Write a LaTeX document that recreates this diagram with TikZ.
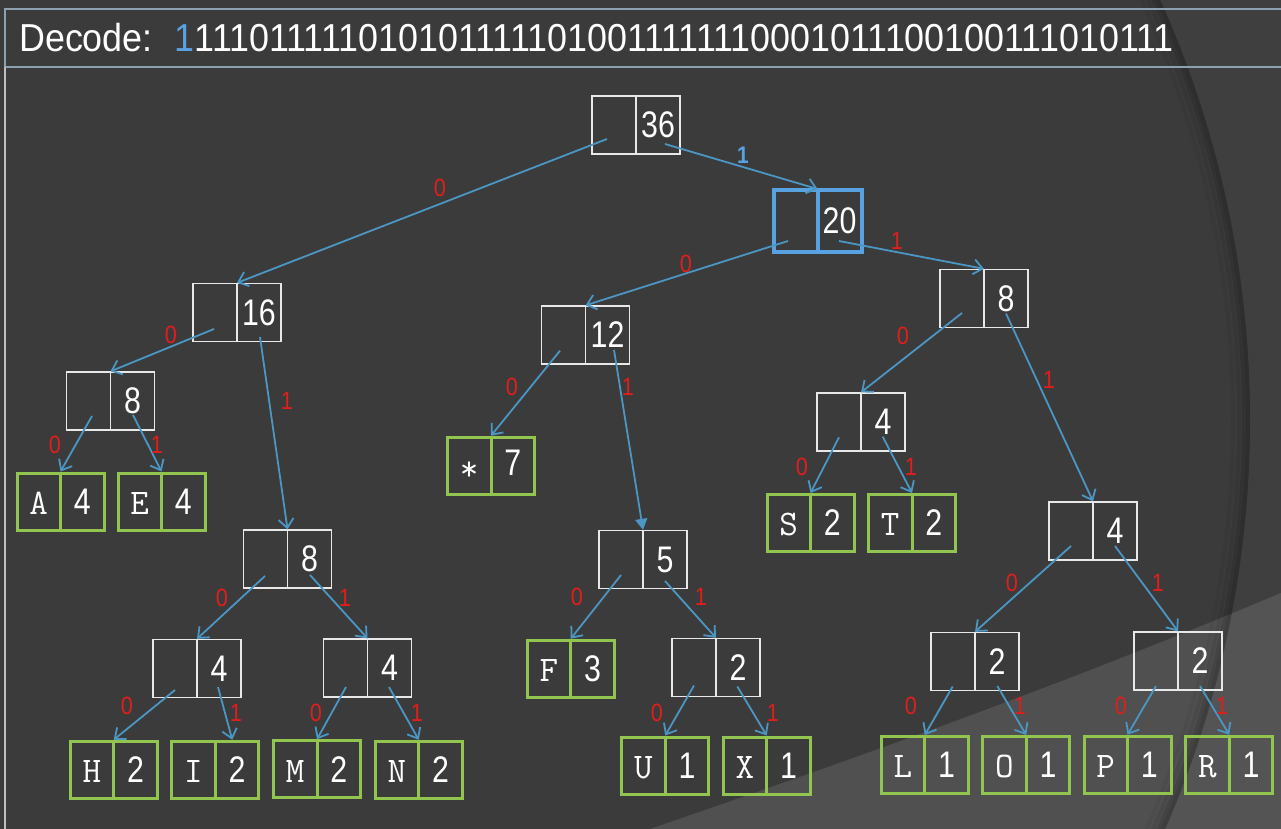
\documentclass[tikz,border=0pt]{standalone}
\usepackage{fontspec}
\setmainfont{Liberation Sans}
\newfontfamily\nfont[FakeStretch=0.87]{Liberation Sans}
\newfontfamily\hfont[FakeStretch=0.92]{Liberation Sans}
\newfontfamily\dfont[FakeStretch=0.82]{Liberation Sans}
\usetikzlibrary{arrows.meta}
\definecolor{bgc}{RGB}{59,59,59}
\definecolor{swoosh}{RGB}{80,80,80}
\definecolor{hdrline}{RGB}{140,162,176}
\definecolor{sideline}{RGB}{190,190,190}
\definecolor{edgec}{RGB}{75,150,195}
\definecolor{nodew}{RGB}{232,232,232}
\definecolor{leafg}{RGB}{146,196,80}
\definecolor{lblred}{RGB}{224,30,28}
\definecolor{hlblue}{RGB}{88,162,226}
\begin{document}
\begin{tikzpicture}[x=1pt,y=-1pt,
  tn/.style={draw=nodew, line width=1.3pt, minimum width=88pt, minimum height=58pt, inner sep=0pt,
    path picture={\draw[nodew, line width=1.3pt] (path picture bounding box.north) -- (path picture bounding box.south);}},
  hn/.style={draw=hlblue, line width=4pt, minimum width=87pt, minimum height=62pt, inner sep=0pt,
    path picture={\draw[hlblue, line width=4pt] (path picture bounding box.north) -- (path picture bounding box.south);}},
  lf/.style={draw=leafg, line width=3pt, minimum width=87pt, minimum height=57pt, inner sep=0pt,
    path picture={\draw[leafg, line width=3pt] (path picture bounding box.north) -- (path picture bounding box.south);}},
  edge/.style={draw=edgec, line width=1.8pt, -{Straight Barb[length=9pt,width=15pt,line width=1.8pt]}},
  fedge/.style={draw=edgec, line width=1.8pt, -{Triangle[length=11pt,width=12pt]}},
  lbl/.style={text=lblred, font=\nfont\fontsize{25}{27}\selectfont, inner sep=0pt},
  blbl/.style={text=hlblue, font=\nfont\bfseries\fontsize{24}{26}\selectfont, inner sep=0pt}
]
\newcommand\inner[1]{\makebox[44pt]{}\makebox[44pt]{\color{white}\dfont\fontsize{37}{40}\selectfont #1}}
\newcommand\leafc[2]{\makebox[43.5pt]{\color{white}\ttfamily\fontsize{36}{40}\selectfont #1}\makebox[43.5pt]{\color{white}\dfont\fontsize{37}{40}\selectfont #2}}
% background
\useasboundingbox (0,0) rectangle (1281,829);
\fill[bgc] (0,0) rectangle (1281,829);
\fill[swoosh] (650,829) .. controls (850,760) and (1050,690) .. (1281,593) -- (1281,829) -- cycle;
\begin{scope}
\clip (0,0) rectangle (1281,829);
\fill[white, opacity=0.025, even odd rule] (0,0) rectangle (1281,829) (225,420) circle[radius=1025pt];
\foreach \r/\o in {1023/0.22,1019/0.14,1014/0.08,1008/0.04}{
  \draw[black, opacity=\o, line width=4pt] (225,420) circle[radius=\r pt];
}
\end{scope}
% header
\draw[hdrline, line width=1.2pt] (1290,9) -- (5,9) -- (5,67) -- (1290,67);
\draw[sideline, line width=1.2pt] (5,67) -- (5,835);
\node[anchor=base west, inner sep=0pt, text=white, font=\hfont\fontsize{39}{42}\selectfont] (hdr) at (19,52)
  {Decode:\hspace{22pt}{\color{hlblue}1}1110111110101011111010011111110001011100100111010111};
% tree nodes
\node[tn] (r36) at (636,125) {\inner{36}};
\node[hn] (n20) at (817.5,221) {\inner{20}};
\node[tn] (n8r) at (984,298.5) {\inner{8}};
\node[tn] (n16) at (237,312.5) {\inner{16}};
\node[tn] (n8l) at (110.5,401) {\inner{8}};
\node[lf] (lA) at (60.5,501.5) {\leafc{A}{4}};
\node[lf] (lE) at (161.5,501.5) {\leafc{E}{4}};
\node[tn] (n8m) at (287.5,559) {\inner{8}};
\node[tn] (n4a) at (197,668.5) {\inner{4}};
\node[tn] (n4b) at (367.5,668) {\inner{4}};
\node[lf] (lH) at (113.75,769.75) {\leafc{H}{2}};
\node[lf] (lI) at (215.25,769.75) {\leafc{I}{2}};
\node[lf] (lM) at (317,769.25) {\leafc{M}{2}};
\node[lf] (lN) at (418.75,769.75) {\leafc{N}{2}};
\node[tn] (n12) at (585.5,335) {\inner{12}};
\node[lf] (lst) at (491,465.75) {\leafc{\raisebox{-5pt}{*}}{7}};
\node[tn] (n5) at (643,559.5) {\inner{5}};
\node[lf] (lF) at (570.75,668.75) {\leafc{F}{3}};
\node[tn] (n2m) at (716,667.5) {\inner{2}};
\node[lf] (lU) at (665.25,765.5) {\leafc{U}{1}};
\node[lf] (lX) at (766.75,765.5) {\leafc{X}{1}};
\node[tn] (n4s) at (861,422) {\inner{4}};
\node[lf] (lS) at (810.5,523) {\leafc{S}{2}};
\node[lf] (lT) at (912,523) {\leafc{T}{2}};
\node[tn] (n4r) at (1093,531) {\inner{4}};
\node[tn] (n2l) at (975,661.5) {\inner{2}};
\node[tn] (n2r) at (1178,661) {\inner{2}};
\node[lf] (lL) at (924.75,765) {\leafc{L}{1}};
\node[lf] (lO) at (1026.25,765) {\leafc{O}{1}};
\node[lf] (lP) at (1127.5,764.75) {\leafc{P}{1}};
\node[lf] (lR) at (1229.25,764.75) {\leafc{R}{1}};
% edges
\draw[edge] ([shift={(-29,14)}]r36.center) -- (n16.north);
\draw[edge] ([shift={(29,19)}]r36.center) -- ([yshift=-1pt]n20.north);
\draw[edge] ([shift={(-29.5,20)}]n20.center) -- (n12.north);
\draw[edge] ([shift={(21.5,20)}]n20.center) -- (n8r.north);
\draw[edge] ([shift={(-23,16.5)}]n16.center) -- (n8l.north);
\draw[edge] ([shift={(23,24.5)}]n16.center) -- (n8m.north);
\draw[edge] ([shift={(-18.5,15)}]n8l.center) -- (lA.north);
\draw[edge] ([shift={(22.5,14)}]n8l.center) -- (lE.north);
\draw[edge] ([shift={(-22.5,17)}]n8m.center) -- (n4a.north);
\draw[edge] ([shift={(22.5,16)}]n8m.center) -- (n4b.north);
\draw[edge] ([shift={(-22,21.5)}]n4a.center) -- (lH.north);
\draw[edge] ([shift={(21,18.5)}]n4a.center) -- ([xshift=17pt]lI.north);
\draw[edge] ([shift={(-21.5,19)}]n4b.center) -- (lM.north);
\draw[edge] ([shift={(21.5,19)}]n4b.center) -- (lN.north);
\draw[edge] ([shift={(-25.5,15.7)}]n12.center) -- (lst.north);
\draw[fedge] ([shift={(28.5,15)}]n12.center) -- (n5.north);
\draw[edge] ([shift={(-22,15.5)}]n5.center) -- (lF.north);
\draw[edge] ([shift={(22,21.5)}]n5.center) -- (n2m.north);
\draw[edge] ([shift={(-22,18)}]n2m.center) -- (lU.north);
\draw[edge] ([shift={(21.3,19)}]n2m.center) -- (lX.north);
\draw[edge] ([shift={(-22,14.5)}]n8r.center) -- (n4s.north);
\draw[edge] ([shift={(22,15)}]n8r.center) -- (n4r.north);
\draw[edge] ([shift={(-22,15.3)}]n4s.center) -- (lS.north);
\draw[edge] ([shift={(21.7,14.7)}]n4s.center) -- (lT.north);
\draw[edge] ([shift={(-22,15)}]n4r.center) -- (n2l.north);
\draw[edge] ([shift={(22,15)}]n4r.center) -- (n2r.north);
\draw[edge] ([shift={(-22.3,25)}]n2l.center) -- (lL.north);
\draw[edge] ([shift={(22.3,24.5)}]n2l.center) -- (lO.north);
\draw[edge] ([shift={(-22,25)}]n2r.center) -- (lP.north);
\draw[edge] ([shift={(22,25)}]n2r.center) -- (lR.north);
% labels
\node[lbl] (e1) at (440,188) {0};
\node[blbl] (e2) at (743,155) {1};
\node[lbl] (e3) at (686,264) {0};
\node[lbl] (e4) at (897,241) {1};
\node[lbl] (e5) at (171,335) {0};
\node[lbl] (e6) at (287,401) {1};
\node[lbl] (e7) at (55,445) {0};
\node[lbl] (e8) at (157,445) {1};
\node[lbl] (e9) at (222,598) {0};
\node[lbl] (e10) at (345,598) {1};
\node[lbl] (e11) at (127,706) {0};
\node[lbl] (e12) at (236,713) {1};
\node[lbl] (e13) at (316,713) {0};
\node[lbl] (e14) at (417,713) {1};
\node[lbl] (e15) at (512,387) {0};
\node[lbl] (e16) at (628,387) {1};
\node[lbl] (e17) at (577,597) {0};
\node[lbl] (e18) at (701,597) {1};
\node[lbl] (e19) at (657,713) {0};
\node[lbl] (e20) at (773,713) {1};
\node[lbl] (e21) at (903,336) {0};
\node[lbl] (e22) at (1049,380) {1};
\node[lbl] (e23) at (802,467) {0};
\node[lbl] (e24) at (911,467) {1};
\node[lbl] (e25) at (1012,583) {0};
\node[lbl] (e26) at (1158,583) {1};
\node[lbl] (e27) at (911,706) {0};
\node[lbl] (e28) at (1020,706) {1};
\node[lbl] (e29) at (1121,706) {0};
\node[lbl] (e30) at (1222,706) {1};
\end{tikzpicture}
\end{document}
